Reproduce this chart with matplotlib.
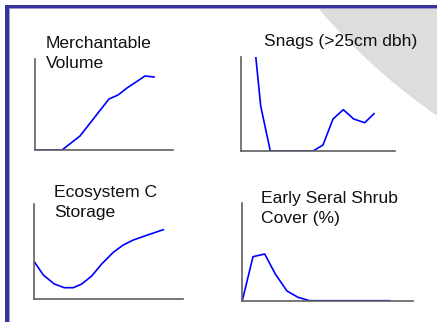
import numpy as np
import matplotlib
matplotlib.use('Agg')
import matplotlib.pyplot as plt
from matplotlib.patches import Rectangle, Circle

plt.rcParams['font.family'] = ['Liberation Sans', 'DejaVu Sans']

# values (time along x, relative amount along y)
merch_t = [0, 27.3, 45.3, 63.3, 74.3, 83.3, 92.3, 110.3, 119.3]
merch_v = [0, 0, 14, 37, 51, 55, 62, 74, 73]

snag_t = [15, 20, 29.6, 40, 51, 61, 72.3, 82.3, 92.3, 102.6, 113, 124, 133.3]
snag_v = [95, 45, 0, 0, 0, 0, 0, 6, 32, 41.3, 32, 28.3, 37.3]

carbon_t = [0.4, 9, 20, 30, 39, 47.4, 57.4, 67.4, 79, 89, 99, 112.4, 129]
carbon_v = [36.7, 24, 15, 11.3, 11.3, 15, 23, 35, 46.7, 54, 59, 63.7, 69.3]

shrub_t = [0.6, 11.3, 23, 33.6, 45.3, 56.3, 68, 148]
shrub_v = [0, 44, 46.7, 26.7, 9.7, 3.4, 0, 0]

titles = ['Merchantable\nVolume', 'Snags (>25cm dbh)',
          'Ecosystem C\nStorage', 'Early Seral Shrub\nCover (%)']

W, H = 437, 322
fig = plt.figure(figsize=(W / 100, H / 100), dpi=100)

# slide background: frame and grey disc
bg = fig.add_axes([0, 0, 1, 1])
bg.set_xlim(0, W)
bg.set_ylim(H, 0)
bg.axis('off')
clip = Rectangle((9, 8), W - 9, H - 8, transform=bg.transData)
disc = Circle((790, -394), 620, facecolor='#dddddd', edgecolor='none')
bg.add_patch(disc)
disc.set_clip_path(clip)
bg.add_patch(Rectangle((9, 8), W - 9, 1.2, facecolor='#9a9acc', edgecolor='none'))
bg.add_patch(Rectangle((9, 8), 1.2, H - 8, facecolor='#9a9acc', edgecolor='none'))
bg.add_patch(Rectangle((5, 4.5), W - 5, 3.5, facecolor='#34349a', edgecolor='none'))
bg.add_patch(Rectangle((5, 4.5), 4, H - 4.5, facecolor='#34349a', edgecolor='none'))

# panel boxes in pixels: x0, x1, ytop, ybottom
boxes = [(34.7, 172.7, 59, 150), (240.7, 394.7, 57, 151),
         (34.3, 182.7, 204.3, 299), (241.7, 413, 202.7, 300.7)]
series = [(merch_t, merch_v), (snag_t, snag_v),
          (carbon_t, carbon_v), (shrub_t, shrub_v)]
title_pos = [(46, 36), (264, 34), (54.3, 185.5), (261.3, 191)]

for (x0, x1, yt, yb), (t, v), title, (tx, ty) in zip(boxes, series, titles, title_pos):
    ax = fig.add_axes([x0 / W, 1 - yb / H, (x1 - x0) / W, (yb - yt) / H])
    ax.patch.set_visible(False)
    ax.plot(t, v, color='#0000ff', lw=1.2, solid_joinstyle='round')
    ax.set_xlim(0, x1 - x0)
    ax.set_ylim(0, yb - yt)
    ax.set_xticks([])
    ax.set_yticks([])
    for s in ['top', 'right']:
        ax.spines[s].set_visible(False)
    for s in ['left', 'bottom']:
        ax.spines[s].set_color('#606060')
        ax.spines[s].set_linewidth(1.2)
    fig.text(tx / W, 1 - ty / H, title, fontsize=12.6, color='#111111',
             ha='left', va='top', linespacing=1.4)

plt.savefig('out.png', dpi=100)
